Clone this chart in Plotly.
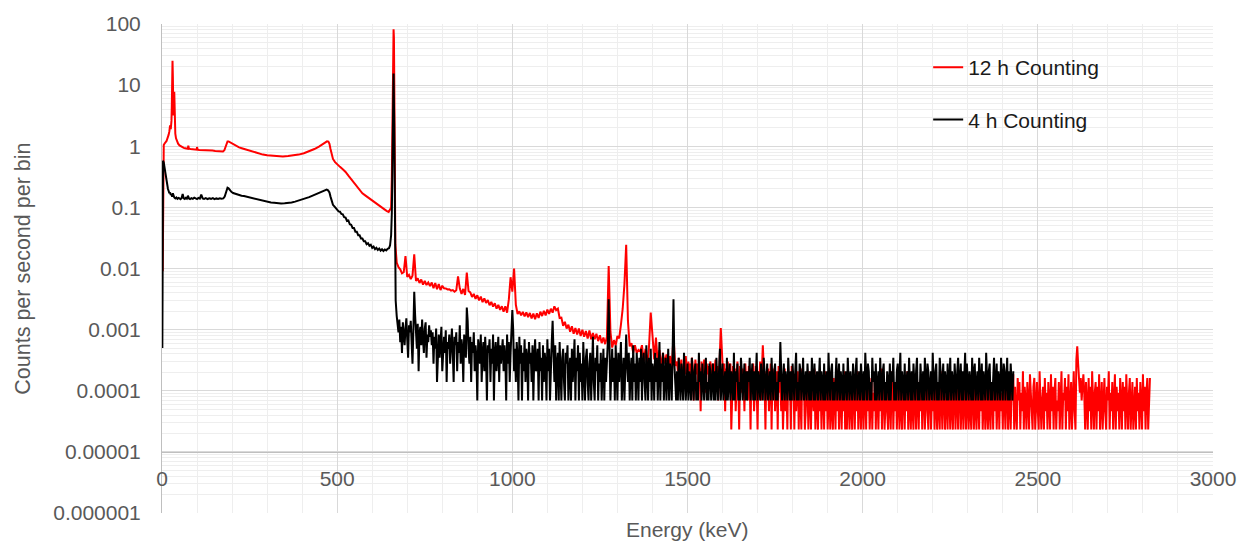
import numpy as np
import plotly.graph_objects as go

# live time of the two measurements (s)
live_12h = 12 * 3600
live_4h = 4 * 3600

# below the 662 keV line (keV, counts per second per bin)
e_red_lo = [2, 3, 5, 7, 9, 11, 13, 15, 17, 19,
            21, 23, 25, 27, 28, 29, 30, 31, 32, 33,
            34, 35, 36, 37, 38, 40, 43, 46, 50, 54,
            58, 62, 66, 70, 74, 75, 77, 81, 85, 90,
            95, 99, 100, 102, 106, 112, 120, 128, 136, 144,
            152, 160, 168, 174, 178, 181, 184, 187, 190, 194,
            199, 205, 212, 220, 230, 240, 250, 262, 275, 288,
            300, 315, 330, 345, 360, 375, 390, 405, 420, 435,
            448, 458, 466, 471, 475, 478, 481, 484, 488, 494,
            500, 508, 516, 524, 532, 540, 548, 556, 564, 572,
            580, 588, 596, 604, 612, 620, 628, 636, 642, 647,
            651, 654, 656, 658, 660, 661, 662, 663, 664, 666]
red_lo = [0.009, 0.95, 1.05, 1.1, 1.12, 1.18, 1.22, 1.3, 1.42, 1.55,
          1.75, 2.2, 1.9, 2.6, 4.5, 12, 25, 14, 5, 3.2,
          4.5, 7.8, 4, 2.2, 1.6, 1.35, 1.2, 1.1, 1.03, 0.99,
          0.96, 0.94, 0.93, 0.92, 0.91, 1.02, 0.91, 0.9, 0.9, 0.89,
          0.89, 0.88, 0.97, 0.88, 0.87, 0.87, 0.86, 0.86, 0.85, 0.85,
          0.84, 0.83, 0.83, 0.82, 0.86, 0.98, 1.12, 1.2, 1.2, 1.16,
          1.11, 1.06, 1.01, 0.96, 0.92, 0.88, 0.84, 0.8, 0.76, 0.73,
          0.71, 0.695, 0.685, 0.68, 0.69, 0.705, 0.73, 0.77, 0.83, 0.9,
          0.99, 1.07, 1.15, 1.2, 1.19, 1.1, 0.9, 0.72, 0.62, 0.55,
          0.5, 0.46, 0.42, 0.38, 0.33, 0.29, 0.25, 0.215, 0.19, 0.17,
          0.157, 0.145, 0.133, 0.122, 0.113, 0.105, 0.098, 0.092, 0.087, 0.084,
          0.092, 0.1, 0.3, 3, 45, 82, 60, 12, 0.8, 0.025]

e_blk_lo = [1, 2, 3, 5, 7, 9, 11, 13, 15, 17,
            19, 21, 23, 25, 27, 29, 31, 33, 35, 38,
            41, 44, 47, 50, 53, 56, 59, 62, 65, 68,
            71, 74, 77, 80, 84, 88, 92, 96, 100, 104,
            108, 112, 116, 120, 125, 130, 135, 140, 145, 150,
            155, 160, 165, 170, 175, 179, 183, 187, 190, 194,
            198, 203, 208, 214, 220, 227, 234, 242, 250, 258,
            266, 275, 284, 293, 302, 311, 320, 330, 340, 350,
            360, 370, 380, 390, 400, 410, 420, 430, 440, 450,
            458, 465, 470, 474, 478, 481, 484, 488, 492, 496,
            500, 504, 508, 512, 516, 520, 524, 528, 532, 536,
            540, 544, 548, 552, 556, 560, 564, 568, 572, 576,
            580, 584, 588, 592, 596, 600, 604, 608, 612, 616,
            620, 624, 628, 632, 636, 640, 644, 648, 651, 654,
            656, 658, 660, 661, 663, 665, 667]
blk_lo = [0.0005, 0.25, 0.58, 0.54, 0.45, 0.38, 0.31, 0.27, 0.23, 0.2,
          0.185, 0.17, 0.175, 0.16, 0.165, 0.15, 0.17, 0.15, 0.145, 0.14,
          0.145, 0.138, 0.143, 0.14, 0.136, 0.142, 0.165, 0.14, 0.137, 0.143,
          0.139, 0.155, 0.14, 0.137, 0.142, 0.138, 0.144, 0.14, 0.137, 0.143,
          0.139, 0.162, 0.14, 0.138, 0.142, 0.137, 0.141, 0.138, 0.142, 0.136,
          0.14, 0.137, 0.141, 0.138, 0.14, 0.15, 0.18, 0.21, 0.205, 0.19,
          0.18, 0.172, 0.168, 0.163, 0.16, 0.155, 0.153, 0.149, 0.146, 0.142,
          0.138, 0.134, 0.13, 0.126, 0.123, 0.12, 0.119, 0.117, 0.116, 0.117,
          0.118, 0.12, 0.124, 0.129, 0.134, 0.14, 0.147, 0.156, 0.165, 0.175,
          0.185, 0.193, 0.195, 0.19, 0.175, 0.15, 0.125, 0.11, 0.104, 0.097,
          0.094, 0.086, 0.085, 0.078, 0.077, 0.069, 0.068, 0.06, 0.061, 0.053,
          0.052, 0.046, 0.046, 0.04, 0.04, 0.035, 0.035, 0.031, 0.031, 0.028,
          0.028, 0.025, 0.026, 0.0235, 0.0245, 0.0218, 0.0228, 0.0207, 0.0218, 0.0201,
          0.0212, 0.0196, 0.0206, 0.0194, 0.0205, 0.0198, 0.021, 0.0215, 0.024, 0.035,
          0.08, 1.5, 10, 15.5, 2, 0.02, 0.003]

# 12 h run above the peak: raw counts per bin
# 5 keV bins from 670 keV ...
red_mid_start, red_mid_bin = 670, 5
red_mid = [540, 455, 420, 360, 375, 690, 315, 340, 290, 330, 735, 270, 298, 250, 285, 236, 270, 232, 255, 222,
           255, 205, 250, 198, 240, 192, 226, 205, 204, 196, 198, 188, 192, 180, 190, 320, 205, 166, 200, 160,
           372, 185, 176, 148, 166, 138, 158, 130, 150, 122, 140, 118, 132, 108, 123, 103, 117, 95, 110, 91,
           104, 85, 104, 82, 135, 311, 180, 432, 110, 78, 86, 74, 84, 71, 83, 69, 81, 66, 79, 64,
           80, 67, 85, 72, 88, 74, 92, 78, 95, 82, 104, 90, 95, 67, 68, 50, 58, 45, 52, 40,
           49, 37, 46, 36, 45, 34, 43, 33, 41, 31, 42, 30, 38, 30, 37, 28, 35, 26, 32, 25,
           33, 475, 40, 22, 29, 24, 34, 31, 52, 95, 240, 1060, 60, 23, 26, 18, 24, 18, 20, 19,
           24, 13, 21, 11, 22, 82, 35, 14, 32, 12, 20, 10, 18, 12, 17, 9, 16, 10, 34, 11]
# ... then 2.5 keV bins from 1470 keV
red_tail_start, red_tail_bin = 1470, 2.5
red_tail = [13, 9, 15, 7, 11, 14, 6, 10, 12, 8, 16, 10, 5, 13, 9, 12, 7, 15, 11, 3, 10, 14, 8, 12, 6, 11, 9, 2, 13, 10, 7, 14, 9, 4, 12, 8, 11, 6, 13, 9,
            8, 12, 5, 10, 14, 7, 11, 3, 13, 18, 46, 20, 9, 6, 12, 2, 10, 7, 13, 4, 9, 12, 1, 8, 11, 5, 10, 2, 9, 13, 6, 1, 11, 8, 4, 10, 7, 2, 12, 6,
            9, 3, 11, 7, 1, 10, 6, 12, 2, 8, 11, 5, 1, 9, 7, 13, 3, 10, 24, 11, 6, 1, 9, 4, 10, 2, 7, 12, 1, 8, 5, 10, 2, 6, 9, 1, 11, 4, 7, 2,
            8, 1, 6, 10, 2, 5, 1, 9, 4, 7, 1, 11, 3, 6, 1, 8, 2, 5, 9, 1, 7, 3, 1, 10, 4, 6, 1, 2, 8, 5, 1, 9, 3, 1, 7, 4, 2, 10, 1, 6,
            3, 1, 8, 2, 5, 1, 7, 4, 1, 9, 2, 6, 1, 3, 8, 1, 5, 2, 1, 7, 4, 1, 10, 2, 6, 1, 3, 8, 1, 5, 2, 9, 1, 4, 1, 7, 3, 1, 6, 2,
            1, 8, 4, 1, 6, 2, 9, 1, 5, 3, 1, 7, 2, 1, 6, 4, 1, 9, 2, 5, 1, 3, 7, 1, 4, 2, 8, 1, 6, 3, 1, 5, 2, 10, 1, 4, 7, 1, 3, 6,
            2, 1, 7, 3, 1, 5, 9, 1, 4, 2, 6, 1, 3, 8, 1, 5, 2, 1, 7, 4, 1, 6, 2, 9, 1, 3, 5, 1, 8, 2, 1, 6, 4, 1, 7, 3, 1, 5, 2, 8,
            1, 4, 6, 1, 3, 9, 2, 1, 5, 7, 1, 3, 2, 8, 1, 4, 6, 1, 2, 5, 1, 9, 3, 1, 7, 4, 1, 2, 6, 1, 8, 3, 1, 5, 2, 1, 7, 4, 1, 6,
            3, 1, 8, 5, 1, 2, 6, 1, 4, 9, 1, 3, 7, 1, 5, 2, 1, 6, 4, 1, 8, 2, 1, 5, 3, 1, 7, 2, 9, 1, 4, 6, 1, 3, 5, 1, 8, 2, 1, 6,
            4, 1, 7, 2, 5, 1, 3, 8, 1, 6, 2, 4, 1, 9, 3, 1, 5, 7, 1, 2, 6, 1, 4, 3, 8, 1, 5, 2, 1, 7, 3, 6, 1, 4, 2, 9, 1, 5, 3, 1,
            6, 3, 1, 8, 4, 2, 1, 5, 7, 1, 3, 6, 2, 1, 9, 4, 1, 3, 5, 1, 7, 2, 4, 1, 6, 3, 1, 8, 2, 5, 1, 4, 7, 1, 3, 2, 6, 1, 5, 9,
            1, 4, 3, 7, 1, 5, 2, 8, 1, 3, 6, 1, 4, 9, 2, 1, 14, 23, 12, 6, 4, 7, 3, 5, 8, 4, 1, 6, 3, 1, 7, 2, 5, 1, 9, 3, 1, 4, 6, 1,
            5, 2, 8, 1, 3, 6, 1, 4, 7, 2, 1, 5, 3, 9, 1, 4, 2, 6, 1, 3, 8, 1, 5, 2, 4, 1, 7, 3, 1, 6, 2, 5, 1, 8, 3, 1, 4, 7, 1, 2,
            6, 1, 3, 5, 1, 7, 2, 4, 1, 6, 3, 1, 8, 2, 5, 1, 4, 7, 1, 3, 7]

# 4 h run above the peak: raw counts per bin, 2.5 keV bins from 670 keV
blk_tail_start, blk_tail_bin = 670, 2.5
blk_tail = [24, 18, 13, 21, 9, 16, 6, 19, 12, 8, 15, 22, 10, 5, 17, 13, 20, 9, 4, 14, 60, 25, 11, 7, 18, 3, 13, 16, 8, 21, 10, 6, 15, 19, 5, 12, 9, 17, 11, 14,
            8, 13, 4, 11, 7, 15, 2, 9, 12, 5, 10, 16, 3, 8, 11, 6, 14, 2, 9, 7, 12, 4, 10, 15, 6, 2, 11, 8, 13, 3, 9, 6, 17, 4, 10, 7, 2, 12, 8, 5,
            33, 20, 7, 4, 11, 2, 9, 6, 13, 3, 8, 5, 1, 10, 7, 4, 12, 2, 6, 9, 3, 11, 5, 1, 8, 6, 10, 2, 7, 4, 12, 1, 6, 9, 3, 5, 11, 2, 8, 4,
            7, 10, 3, 8, 5, 1, 12, 4, 9, 2, 6, 11, 30, 14, 3, 7, 2, 9, 5, 1, 11, 4, 8, 1, 6, 3, 10, 2, 7, 5, 1, 9, 4, 6, 2, 8, 1, 5, 10, 3,
            4, 7, 1, 9, 3, 5, 1, 8, 2, 6, 4, 1, 10, 3, 7, 1, 5, 9, 20, 6, 2, 8, 1, 4, 6, 1, 9, 3, 1, 5, 7, 2, 1, 6, 4, 8, 1, 3, 5, 1,
            7, 2, 4, 10, 1, 5, 3, 8, 1, 6, 2, 4, 1, 9, 3, 1, 5, 7, 2, 1, 4, 6, 1, 3, 11, 2, 1, 5, 3, 8, 1, 4, 2, 6, 1, 3, 7, 1, 5, 2,
            4, 9, 45, 6, 1, 3, 7, 2, 5, 1, 8, 3, 1, 6, 2, 4, 9, 1, 3, 5, 1, 7, 12, 4, 2, 6, 1, 3, 5, 1, 8, 2, 4, 1, 6, 3, 1, 5, 2, 7,
            1, 4, 6, 2, 1, 8, 3, 1, 5, 2, 7, 1, 4, 3, 1, 6, 2, 5, 1, 3, 9, 1, 4, 2, 6, 1, 3, 5, 1, 2, 7, 1, 4, 3, 1, 6, 45, 4, 2, 1,
            3, 1, 5, 2, 1, 4, 2, 1, 6, 3, 1, 2, 4, 1, 3, 2, 1, 5, 2, 1, 3, 4, 1, 2, 1, 6, 2, 3, 1, 4, 2, 1, 3, 5, 1, 2, 1, 4, 3, 1,
            2, 4, 1, 3, 1, 5, 2, 1, 3, 7, 1, 2, 4, 1, 2, 3, 1, 5, 1, 2, 4, 1, 3, 2, 1, 6, 1, 3, 2, 4, 1, 2, 1, 5, 3, 1, 2, 4, 1, 3,
            1, 3, 2, 5, 1, 2, 4, 1, 3, 1, 2, 6, 1, 3, 2, 1, 4, 2, 1, 5, 3, 1, 2, 4, 1, 2, 3, 1, 5, 2, 1, 3, 4, 1, 2, 1, 3, 2, 9, 3,
            1, 2, 4, 1, 3, 2, 1, 5, 2, 1, 3, 1, 4, 2, 1, 3, 6, 1, 2, 1, 4, 3, 1, 2, 5, 1, 2, 3, 1, 4, 2, 1, 3, 1, 5, 2, 1, 4, 1, 2,
            3, 1, 2, 5, 1, 3, 2, 1, 4, 1, 2, 3, 1, 6, 2, 1, 3, 4, 1, 2, 1, 3, 5, 1, 2, 4, 1, 3, 2, 1, 4, 1, 2, 3, 1, 5, 2, 1, 3, 2,
            1, 4, 2, 1, 3, 5, 1, 2, 3, 1, 4, 2, 1, 3, 1, 6, 2, 1, 4, 3, 1, 2, 1, 5, 2, 3, 1, 4, 1, 2, 3, 1, 5, 2, 1, 3, 4, 1, 2, 1,
            3, 2, 1, 4, 1, 3, 2, 5, 1, 2, 1, 3, 4, 1, 2, 6, 1, 3, 2, 1, 4, 1, 2, 3, 1, 5, 2, 1, 3, 1, 4, 2, 1, 3, 5, 1, 2, 1, 4, 2,
            1, 3, 1, 5, 2, 1, 4, 3, 1, 2, 3, 1, 6, 2, 1, 3, 4, 1, 2, 1, 5, 3, 1, 2, 4, 1, 3, 2, 1, 4, 1, 2, 5, 1, 3, 2, 1, 4, 2, 1,
            3, 5, 1, 2, 4, 1, 3, 1, 2, 6, 1, 4, 2, 1, 3, 2, 1, 5, 1, 3, 4, 1, 2, 3, 1, 5, 2, 1, 4, 1, 3, 2, 1, 6, 2, 1, 3, 4, 1, 2,
            1, 3, 5, 1, 2, 4, 1, 3, 2, 1, 5, 2, 1, 4, 3, 1, 2, 5, 1, 3, 1, 4, 2, 1, 3]

y_ticks = [1e-6, 1e-5, 1e-4, 1e-3, 1e-2, 1e-1, 1, 10, 100]
y_labels = ["0.000001", "0.00001", "0.0001", "0.001", "0.01", "0.1", "1", "10", "100"]


def binned(start, width, counts, live):
    e = start + width * np.arange(len(counts))
    return e, np.array(counts) / live


e1, c1 = binned(red_mid_start, red_mid_bin, red_mid, live_12h)
e2, c2 = binned(red_tail_start, red_tail_bin, red_tail, live_12h)
x_red = np.concatenate([e_red_lo, e1, e2])
y_red = np.concatenate([red_lo, c1, c2])

e3, c3 = binned(blk_tail_start, blk_tail_bin, blk_tail, live_4h)
x_blk = np.concatenate([e_blk_lo, e3])
y_blk = np.concatenate([blk_lo, c3])

font_fam = "Liberation Sans, Arial, sans-serif"
grey = "#595959"

fig = go.Figure()
fig.add_trace(go.Scatter(x=x_red, y=y_red, mode="lines", name="12 h Counting",
                         legendgroup="a", line=dict(color="#ff0000", width=2)))
fig.add_trace(go.Scatter(x=x_blk, y=y_blk, mode="lines", name="4 h Counting",
                         legendgroup="b", line=dict(color="#000000", width=2)))

minor_y = [k * 10.0 ** p for p in range(-6, 2) for k in range(2, 10)]

fig.update_layout(
    width=1248, height=544,
    margin=dict(l=162, r=34, t=19, b=31),
    paper_bgcolor="white", plot_bgcolor="white",
    font=dict(family=font_fam, size=21, color=grey),
    legend=dict(x=0.729, y=0.953, xanchor="left", yanchor="top",
                font=dict(size=21, color="#1a1a1a"), tracegroupgap=22,
                bgcolor="rgba(0,0,0,0)"),
    annotations=[
        dict(text="Counts per second per bin", xref="paper", yref="paper",
             x=-0.133, y=0.5, textangle=-90, showarrow=False,
             xanchor="center", yanchor="middle", font=dict(size=21.5, color=grey)),
        dict(text="Energy (keV)", xref="paper", yref="paper",
             x=0.5, y=-0.034, showarrow=False,
             xanchor="center", yanchor="middle", font=dict(size=21, color=grey)),
    ],
)
fig.update_xaxes(range=[0, 3000], tick0=0, dtick=500, ticks="",
                 showgrid=True, gridcolor="#d9d9d9", gridwidth=1,
                 minor=dict(dtick=100, showgrid=True, gridcolor="#eeeeee"),
                 showline=True, linecolor="#bfbfbf", linewidth=1,
                 anchor="free", position=0.125, zeroline=False,
                 ticklabelstandoff=8, tickfont=dict(size=21, color=grey))
fig.update_yaxes(type="log", range=[-6, 2], tickvals=y_ticks, ticktext=y_labels,
                 ticks="", showgrid=True, gridcolor="#d9d9d9", gridwidth=1,
                 minor=dict(tickvals=minor_y, showgrid=True, gridcolor="#eeeeee"),
                 showline=True, linecolor="#bfbfbf", linewidth=1, zeroline=False,
                 ticklabelstandoff=16, tickfont=dict(size=21, color=grey))

fig.write_html("out.html", config={"displayModeBar": False},
               post_script="document.body.style.margin='0';")
